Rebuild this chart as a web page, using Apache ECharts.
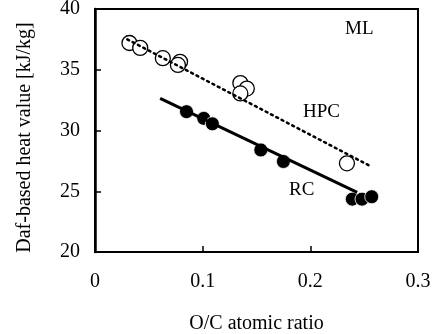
<!DOCTYPE html>
<html>
<head>
<meta charset="utf-8">
<script src="https://cdn.jsdelivr.net/npm/echarts@6/dist/echarts.min.js"></script>
<style>
  html, body { margin: 0; padding: 0; background: #fff; }
  #chart { width: 443px; height: 334px; }
</style>
</head>
<body>
<div id="chart"></div>
<script>
// HPC (open circles)
var hpcX = [0.032, 0.042, 0.063, 0.079, 0.077, 0.135, 0.141, 0.135, 0.234];
var hpcY = [37.2, 36.8, 35.95, 35.65, 35.4, 33.9, 33.45, 33.05, 27.3];
// RC (filled circles)
var rcX = [0.085, 0.101, 0.109, 0.154, 0.175, 0.239, 0.248, 0.257];
var rcY = [31.55, 31.0, 30.55, 28.4, 27.45, 24.35, 24.35, 24.55];
// fitted lines [start, end]
var hpcLineX = [0.030, 0.254];
var hpcLineY = [37.5, 27.15];
var rcLineX = [0.0605, 0.2435];
var rcLineY = [32.65, 24.9];

var xTicks = ['0', '0.1', '0.2', '0.3'];

function pairs(xs, ys) {
  return xs.map(function (x, i) { return [x, ys[i]]; });
}

var font = 'Liberation Serif';
var chart = echarts.init(document.getElementById('chart'));

chart.setOption({
  animation: false,
  backgroundColor: '#fff',
  grid: {
    left: 95, top: 9, width: 323, height: 243,
    outerBoundsMode: 'none', containLabel: false,
    show: true, borderColor: '#000', borderWidth: 2, backgroundColor: 'transparent'
  },
  xAxis: {
    type: 'value', min: 0, max: 0.3, interval: 0.1,
    name: 'O/C atomic ratio', nameLocation: 'middle', nameGap: 62,
    nameTextStyle: { fontFamily: font, fontSize: 20, color: '#000' },
    axisLine: { lineStyle: { color: '#000', width: 2 } },
    axisTick: { inside: true, length: 6, lineStyle: { color: '#000', width: 1.5 } },
    axisLabel: {
      margin: 20, fontFamily: font, fontSize: 20, color: '#000',
      formatter: function (v) { return xTicks[Math.round(v * 10)]; }
    },
    splitLine: { show: false }
  },
  yAxis: {
    type: 'value', min: 20, max: 40, interval: 5,
    name: 'Daf-based heat value [kJ/kg]', nameLocation: 'middle', nameGap: 60,
    nameTextStyle: { fontFamily: font, fontSize: 20, color: '#000', padding: [0, 14, 0, 0] },
    axisLine: { lineStyle: { color: '#000', width: 2.5 } },
    axisTick: { inside: true, length: 6, lineStyle: { color: '#000', width: 1.5 } },
    axisLabel: { margin: 15, fontFamily: font, fontSize: 20, color: '#000' },
    splitLine: { show: false }
  },
  series: [
    {
      name: 'HPC fit', type: 'line', data: pairs(hpcLineX, hpcLineY),
      symbol: 'none', silent: true,
      lineStyle: { color: '#000', width: 2.5, type: [2, 4], cap: 'round' }
    },
    {
      name: 'RC fit', type: 'line', data: pairs(rcLineX, rcLineY),
      symbol: 'none', silent: true,
      lineStyle: { color: '#000', width: 3 }
    },
    {
      name: 'HPC', type: 'scatter', data: pairs(hpcX, hpcY),
      symbol: 'circle', symbolSize: 15,
      itemStyle: { color: '#fff', borderColor: '#000', borderWidth: 1.3, opacity: 1 }
    },
    {
      name: 'RC', type: 'scatter', data: pairs(rcX, rcY),
      symbol: 'circle', symbolSize: 14,
      itemStyle: { color: '#000', borderColor: '#fff', borderWidth: 0.8, opacity: 1 }
    }
  ],
  graphic: [
    { type: 'text', left: 345, top: 20, style: { text: 'ML', font: '19px "Liberation Serif"', fill: '#000' } },
    { type: 'text', left: 303, top: 103, style: { text: 'HPC', font: '19px "Liberation Serif"', fill: '#000' } },
    { type: 'text', left: 289, top: 181, style: { text: 'RC', font: '19px "Liberation Serif"', fill: '#000' } }
  ]
});
</script>
</body>
</html>
